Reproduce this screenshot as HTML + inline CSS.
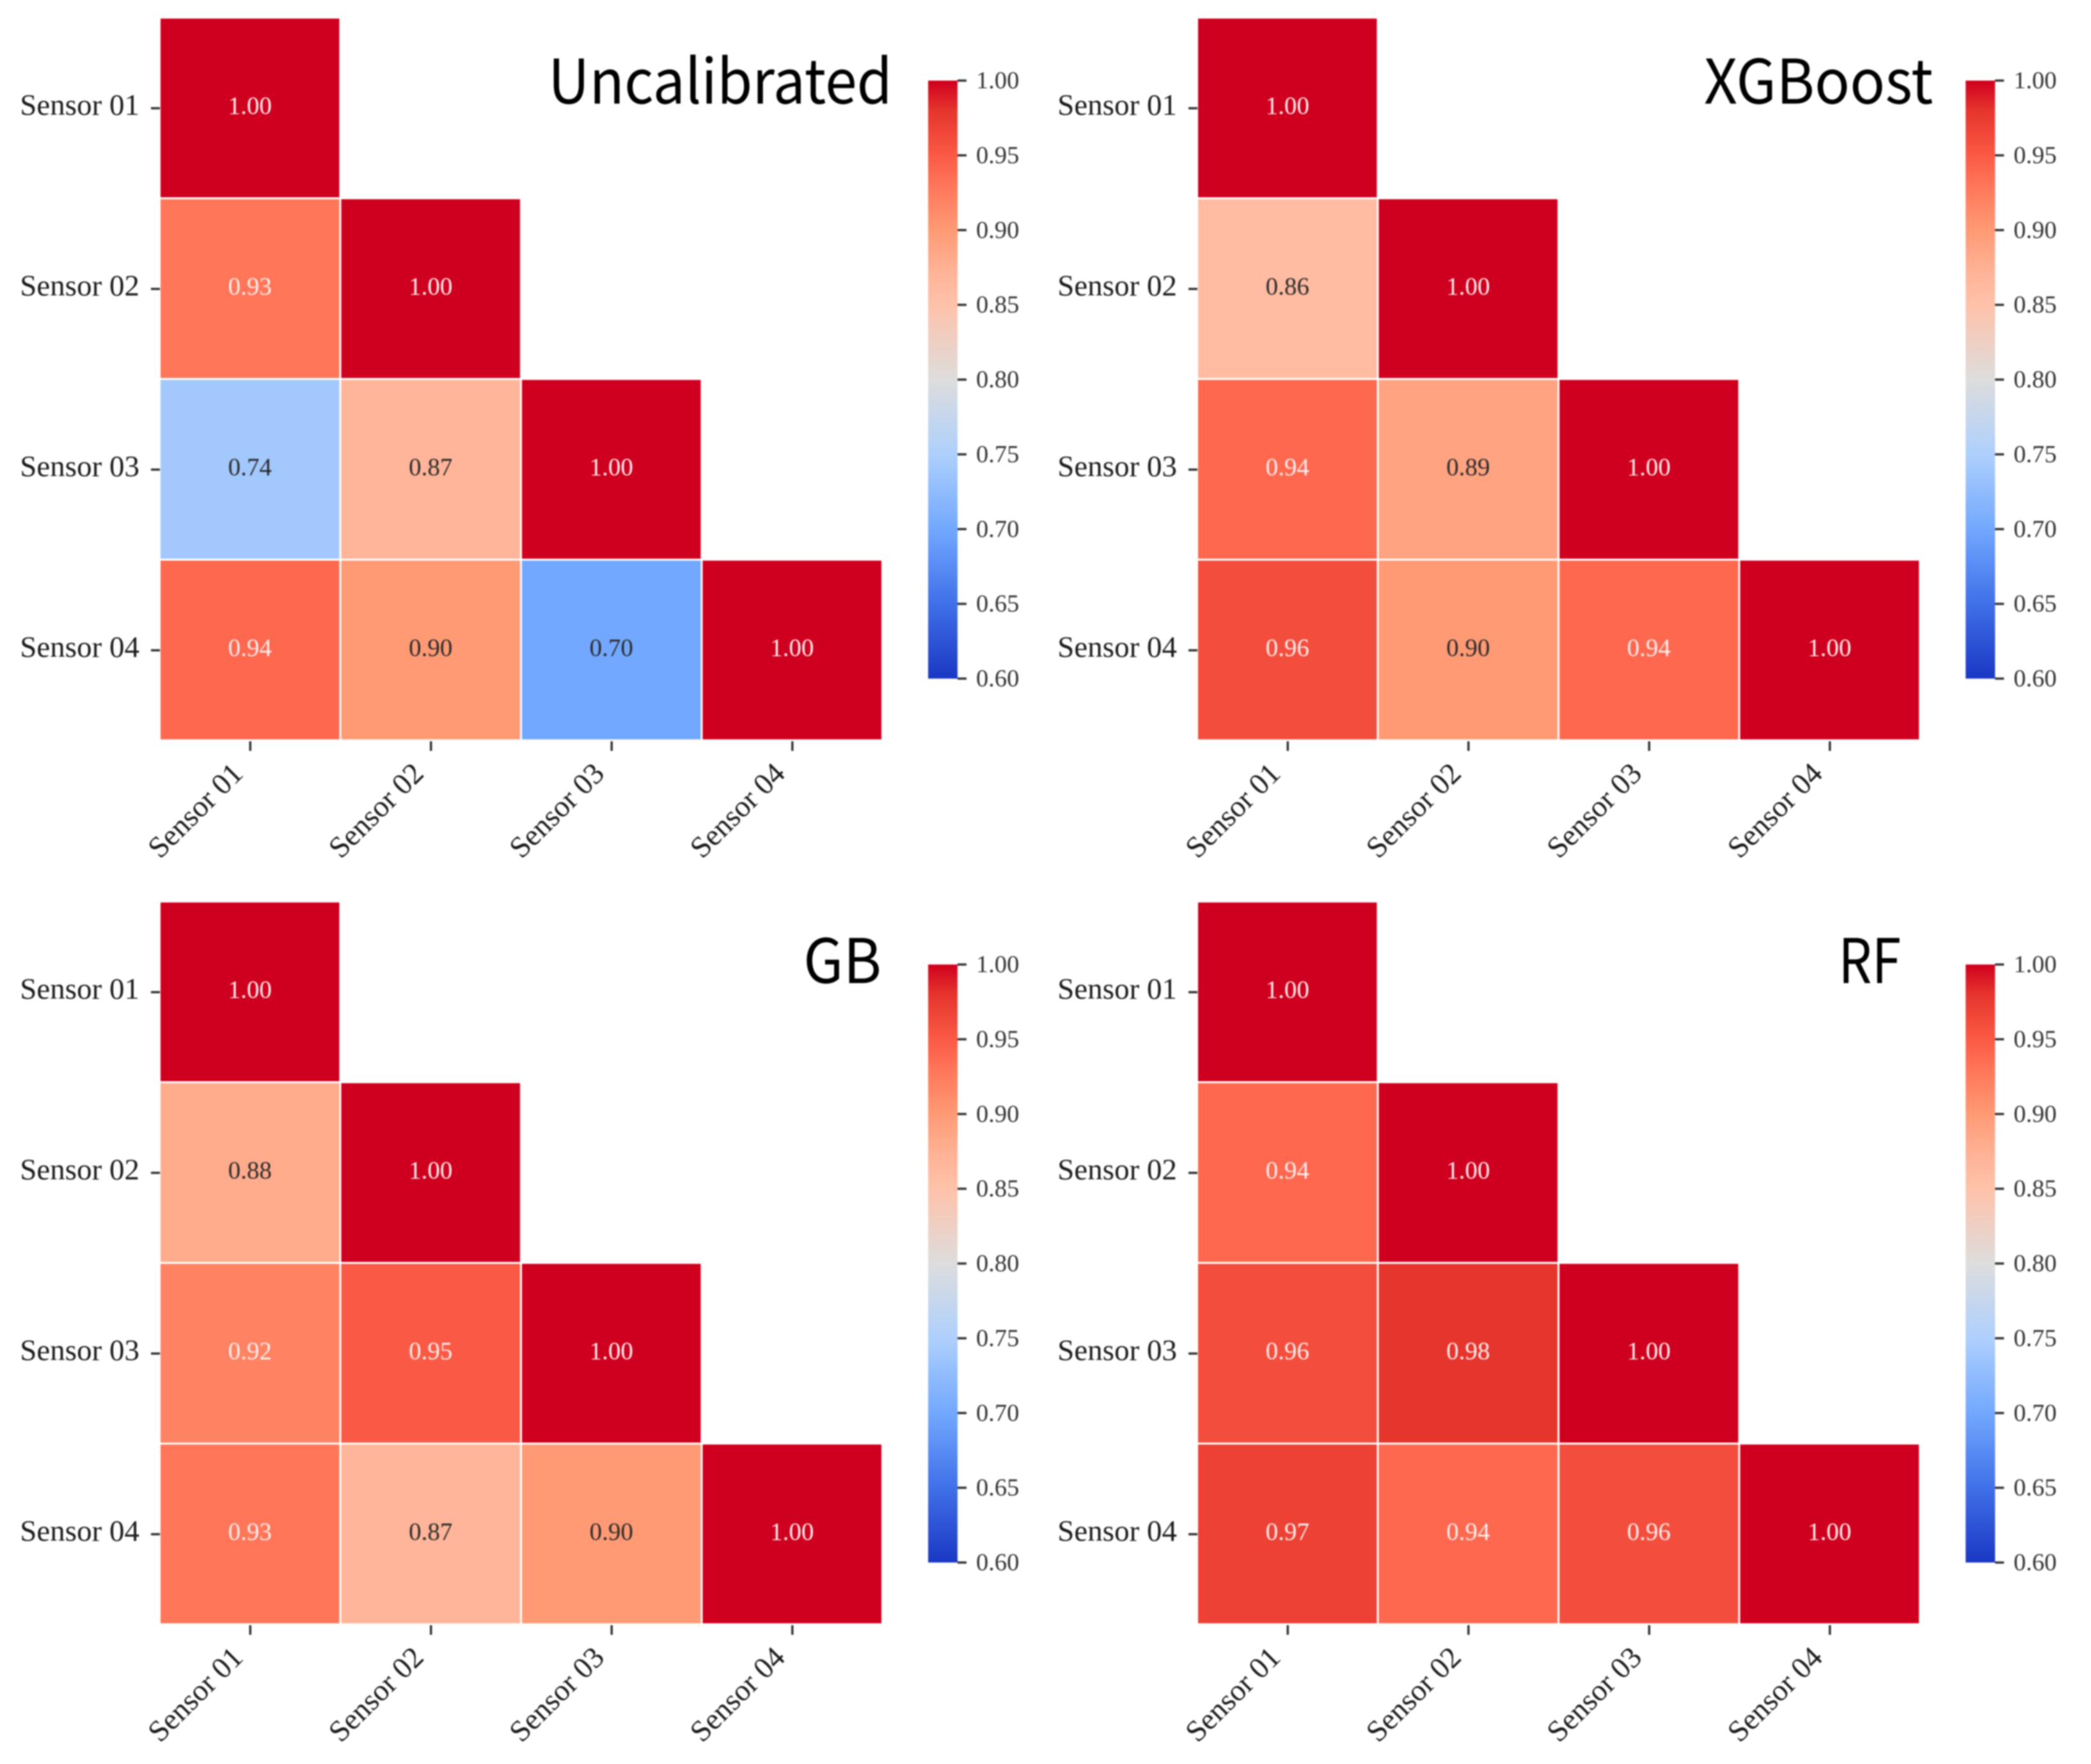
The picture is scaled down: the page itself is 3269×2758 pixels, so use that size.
<!DOCTYPE html>
<html>
<head>
<meta charset="utf-8">
<style>
html,body{margin:0;padding:0;background:#fff;}
svg{display:block;filter:blur(1.1px);}
text{font-family:"Liberation Serif","Times New Roman",serif;}
.ttl{font-family:"Noto Sans CJK SC","Liberation Sans",sans-serif;fill:#000;}
</style>
</head>
<body>
<svg id="chart" xmlns="http://www.w3.org/2000/svg" width="3269" height="2758" viewBox="0 0 3269 2758"></svg>
<script>
const sensors = ["Sensor 01", "Sensor 02", "Sensor 03", "Sensor 04"];
const uncalibratedValues = [[1.00], [0.93, 1.00], [0.74, 0.87, 1.00], [0.94, 0.90, 0.70, 1.00]];
const xgboostValues = [[1.00], [0.86, 1.00], [0.94, 0.89, 1.00], [0.96, 0.90, 0.94, 1.00]];
const gbValues = [[1.00], [0.88, 1.00], [0.92, 0.95, 1.00], [0.93, 0.87, 0.90, 1.00]];
const rfValues = [[1.00], [0.94, 1.00], [0.96, 0.98, 1.00], [0.97, 0.94, 0.96, 1.00]];
const colorbarTicks = [0.60, 0.65, 0.70, 0.75, 0.80, 0.85, 0.90, 0.95, 1.00];

const NS = "http://www.w3.org/2000/svg";
const svg = document.getElementById("chart");
const PITCH = 282.5, GAP = 3;
const CB_TOP = 126, CB_BOTTOM = 1061, CB_LEFT = 1451, CB_W = 46;
const VMIN = 0.6, VMAX = 1.0;

const panels = [
  {key: "uncalibrated", title: "Uncalibrated", values: uncalibratedValues, ox: 0, oy: 0, cbo: 0, tx: 857, tw: 538, tb: 162, ts: 96},
  {key: "xgboost", title: "XGBoost", values: xgboostValues, ox: 1622, oy: 0, cbo: 0, tx: 2664, tw: 358, tb: 162, ts: 96},
  {key: "gb", title: "GB", values: gbValues, ox: 0, oy: 1382, cbo: 1382, tx: 1256, tw: 122, tb: 1537, ts: 96},
  {key: "rf", title: "RF", values: rfValues, ox: 1622, oy: 1382, cbo: 1382, tx: 2874, tw: 98, tb: 1537, ts: 96}
];

const cmapStops = [
  [0.60, [26, 56, 196]], [0.65, [64, 112, 232]], [0.70, [114, 168, 255]], [0.75, [174, 208, 253]],
  [0.80, [221, 221, 221]], [0.85, [255, 194, 170]], [0.87, [255, 181, 153]], [0.90, [255, 154, 117]],
  [0.93, [255, 118, 89]], [0.95, [250, 90, 69]], [0.98, [230, 53, 45]], [1.00, [207, 0, 31]]
];

function colorFor(v) {
  for (let i = 1; i < cmapStops.length; i++) {
    if (v <= cmapStops[i][0]) {
      const a = cmapStops[i - 1], b = cmapStops[i];
      const t = (v - a[0]) / (b[0] - a[0]);
      const c = a[1].map((x, k) => Math.round(x + (b[1][k] - x) * t));
      return "rgb(" + c.join(",") + ")";
    }
  }
  return "rgb(207,0,31)";
}
function make(tag, attrs, parent) {
  const el = document.createElementNS(NS, tag);
  for (const k in attrs) el.setAttribute(k, attrs[k]);
  parent.appendChild(el);
  return el;
}
function xScale(panel, i) { return panel.ox + 251 + i * PITCH; }
function yScale(panel, i) { return panel.oy + 29 + i * PITCH; }
function cbScale(panel, v) { return panel.cbo + CB_BOTTOM - (v - VMIN) / (VMAX - VMIN) * (CB_BOTTOM - CB_TOP); }
function textColor(v) { return v >= 0.915 ? "#fbeeee" : "#2b2b2b"; }

const defs = make("defs", {}, svg);
const grad = make("linearGradient", {id: "cbar-grad", x1: 0, y1: 1, x2: 0, y2: 0}, defs);
cmapStops.forEach(function (s) {
  make("stop", {offset: ((s[0] - VMIN) / (VMAX - VMIN) * 100) + "%", "stop-color": colorFor(s[0])}, grad);
});

panels.forEach(function (p) {
  const g = make("g", {}, svg);
  
  

  p.values.forEach(function (row, r) {
    row.forEach(function (v, c) {
      const x = xScale(p, c), y = yScale(p, r);
      const rect = make("rect", {x: x, y: y, width: PITCH - GAP, height: PITCH - GAP, fill: colorFor(v)}, g);
      
      
      const t = make("text", {x: x + (PITCH - GAP) / 2, y: y + (PITCH - GAP) / 2 + 9, "text-anchor": "middle", "font-size": 39, fill: textColor(v)}, g);
      t.textContent = v.toFixed(2);
      
      
    });
  });

  sensors.forEach(function (name, i) {
    const yc = yScale(p, i) + PITCH / 2 - 1;
    const yt = make("line", {x1: p.ox + 236, x2: p.ox + 250, y1: yc, y2: yc, stroke: "#333", "stroke-width": 3.5}, g);
    
    
    const yl = make("text", {x: p.ox + 218, y: yc + 10, "text-anchor": "end", "font-size": 47, fill: "#1c1c1c"}, g);
    yl.textContent = name;
    
    

    const xc = xScale(p, i) + PITCH / 2 - 1;
    const base = yScale(p, 4);
    const xt = make("line", {x1: xc, x2: xc, y1: base, y2: base + 15, stroke: "#333", "stroke-width": 3.5}, g);
    
    
    const lx = xc - 9, ly = base + 53;
    const xl = make("text", {x: lx, y: ly, "text-anchor": "end", "font-size": 47, fill: "#1c1c1c", transform: "rotate(-45 " + lx + " " + ly + ")"}, g);
    xl.textContent = name;
    
    
  });

  const title = make("text", {x: p.tx, y: p.tb, "font-size": p.ts, textLength: p.tw, lengthAdjust: "spacingAndGlyphs", class: "ttl"}, g);
  title.textContent = p.title;
  
  

  const bar = make("rect", {x: p.ox + CB_LEFT, y: cbScale(p, VMAX), width: CB_W, height: cbScale(p, VMIN) - cbScale(p, VMAX), fill: "url(#cbar-grad)"}, g);
  
  

  colorbarTicks.forEach(function (v) {
    const y = cbScale(p, v);
    const tk = make("line", {x1: p.ox + CB_LEFT + CB_W, x2: p.ox + CB_LEFT + CB_W + 14, y1: y, y2: y, stroke: "#333", "stroke-width": 3.5}, g);
    
    
    const lb = make("text", {x: p.ox + CB_LEFT + CB_W + 29, y: y + 12, "font-size": 38.5, fill: "#333"}, g);
    lb.textContent = v.toFixed(2);
    
    
  });
});
</script>
</body>
</html>
